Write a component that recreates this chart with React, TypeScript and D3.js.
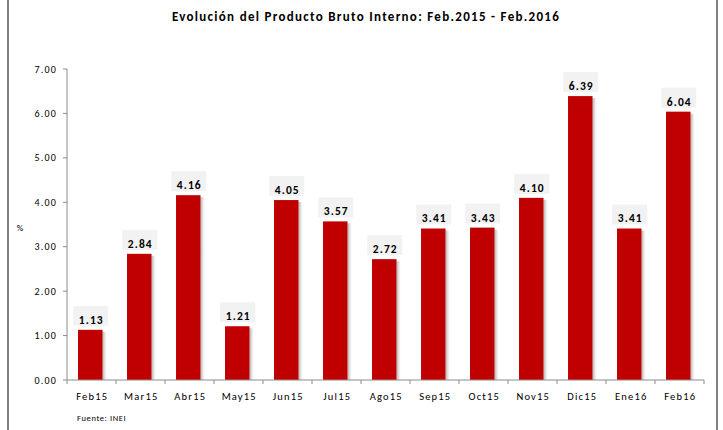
import React from "react";
import * as d3 from "d3";

const categories = ["Feb15","Mar15","Abr15","May15","Jun15","Jul15","Ago15","Sep15","Oct15","Nov15","Dic15","Ene16","Feb16"];
const values = [1.13, 2.84, 4.16, 1.21, 4.05, 3.57, 2.72, 3.41, 3.43, 4.10, 6.39, 3.41, 6.04];
const yTicks = [0, 1, 2, 3, 4, 5, 6, 7];

const W = 723, H = 430;
const left = 67, right = 704, top = 69, bottom = 380;
const font = "Carlito, Calibri, 'Liberation Sans', Arial, sans-serif";

export default function App() {
  const x = d3.scaleBand<string>().domain(categories).range([left, right]).paddingInner(0.5).paddingOuter(0.25).align(0.45);
  const y = d3.scaleLinear().domain([0, 7]).range([bottom, top]);
  const bw = x.bandwidth();
  const step = x.step();
  return (
    <svg width={W} height={H} style={{ position: "absolute", left: 0, top: 0, background: "#fff" }}>
      <defs>
        <linearGradient id="shadow" x1="0" x2="1" y1="0" y2="0">
          <stop offset="0" stopColor="#9a9a9a" stopOpacity={0.8} />
          <stop offset="1" stopColor="#d0d0d0" stopOpacity={0.1} />
        </linearGradient>
      </defs>
      <rect x={0} y={0} width={W} height={H} fill="#fff" />
      <line x1={8} x2={8} y1={0} y2={H} stroke="#808080" strokeWidth={2} />
      <line x1={717} x2={717} y1={0} y2={H} stroke="#808080" strokeWidth={2} />
      <text x={366} y={21} textAnchor="middle" fontFamily={font} fontWeight="bold" fontSize={13} letterSpacing={1.3} fill="#000">
        Evolución del Producto Bruto Interno: Feb.2015 - Feb.2016
      </text>
      {/* y axis */}
      <line x1={left} x2={left} y1={y(7)} y2={bottom} stroke="#8c8c8c" strokeWidth={1} />
      {yTicks.map(t => (
        <g key={t}>
          <line x1={left - 4} x2={left} y1={y(t)} y2={y(t)} stroke="#8c8c8c" />
          <text x={left - 10} y={y(t)} dy="0.35em" textAnchor="end" fontFamily={font} fontSize={10} letterSpacing={1.2} fill="#000">
            {t.toFixed(2)}
          </text>
        </g>
      ))}
      <text x={20} y={228} dy="0.35em" textAnchor="middle" fontFamily={font} fontSize={9} fill="#000">%</text>
      {/* bars */}
      {categories.map((c, i) => {
        const bx = x(c)!;
        const by = y(values[i]);
        return (
          <g key={c}>
            <rect x={bx + bw} y={by + 2} width={4} height={bottom - by - 2} fill="url(#shadow)" />
            <rect x={bx} y={by} width={bw} height={bottom - by} fill="#c00000" />
            <rect x={bx + bw / 2 - 17} y={by - 24} width={35} height={20} fill="#f2f2f2" />
            <text x={bx + bw / 2 + 1} y={by - 6} textAnchor="middle" fontFamily={font} fontWeight="bold" fontSize={11.5} letterSpacing={1.1} fill="#000">
              {values[i].toFixed(2)}
            </text>
          </g>
        );
      })}
      {/* x axis */}
      <line x1={left} x2={right} y1={bottom} y2={bottom} stroke="#8c8c8c" />
      {d3.range(categories.length + 1).map(i => (
        <line key={i} x1={left + i * step} x2={left + i * step} y1={bottom} y2={bottom + 4} stroke="#8c8c8c" />
      ))}
      {categories.map(c => (
        <text key={c} x={x(c)! + bw / 2 + 2} y={400} textAnchor="middle" fontFamily={font} fontSize={10.5} letterSpacing={1.2} fill="#000">
          {c}
        </text>
      ))}
      <text x={77} y={421} fontFamily={font} fontSize={8.5} letterSpacing={0.6} fill="#000">Fuente: INEI</text>
    </svg>
  );
}
